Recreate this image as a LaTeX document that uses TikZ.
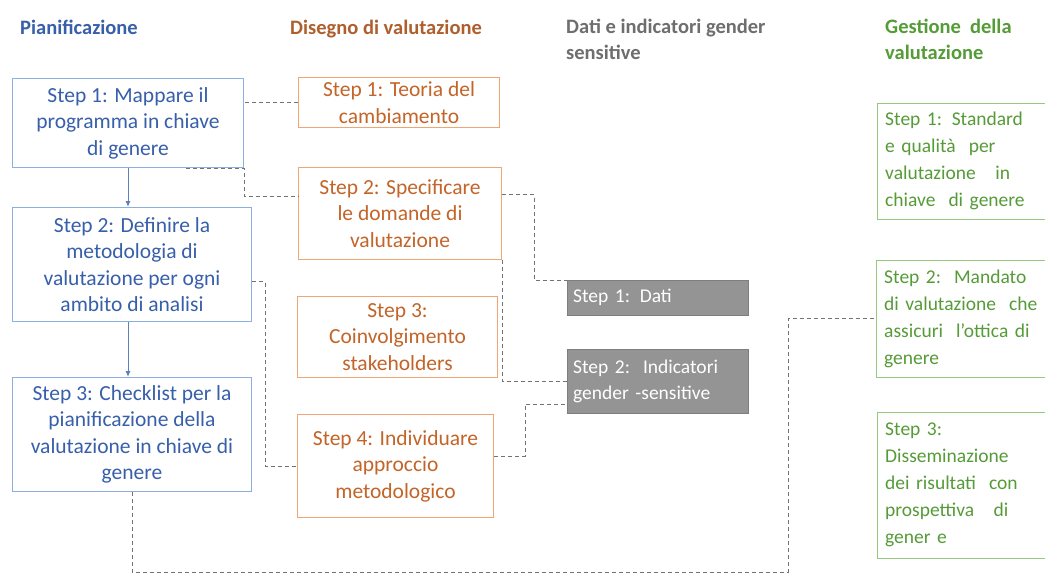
\documentclass[tikz,border=0pt]{standalone}
\usepackage{fontspec}
\setmainfont{Carlito}
\usetikzlibrary{arrows.meta}
\definecolor{planblue}{RGB}{55,95,170}
\definecolor{planline}{RGB}{140,175,225}
\definecolor{designtext}{RGB}{195,100,40}
\definecolor{designline}{RGB}{240,165,115}
\definecolor{designhead}{RGB}{175,95,45}
\definecolor{datahead}{RGB}{110,110,110}
\definecolor{datafill}{RGB}{148,148,148}
\definecolor{mgmtgreen}{RGB}{85,155,55}
\definecolor{mgmtline}{RGB}{150,200,125}
\definecolor{linkgray}{RGB}{115,115,115}
\newcommand{\boxfont}{\fontsize{21.5}{26.5}\selectfont}
\newcommand{\headfont}{\fontsize{20.5}{26}\selectfont\bfseries}

\begin{document}
\begin{tikzpicture}[x=1pt,y=-1pt,
    head/.style={inner sep=0pt,font=\headfont,align=left},
    planbox/.style={draw=planline,line width=1pt,text=planblue,align=center,font=\boxfont,anchor=north west},
    designbox/.style={draw=designline,line width=1pt,text=designtext,align=center,font=\boxfont,anchor=north west},
    databox/.style={draw=datafill!85!black,fill=datafill,text=white,align=left,font=\fontsize{19.5}{26.5}\selectfont,anchor=north west,inner xsep=6pt,text width=169pt},
    mgmtbox/.style={text=mgmtgreen,align=left,font=\fontsize{19.5}{27}\selectfont,anchor=north west,inner xsep=8pt,text width=200pt},
    link/.style={draw=linkgray,line width=0.9pt,dash pattern=on 4pt off 3pt},
    flow/.style={draw=planblue!80,line width=1pt,-{Latex[length=6pt,width=5pt]}}]
  \useasboundingbox (0,0) rectangle (1048,576);
  \fill[white] (0,0) rectangle (1048,576);

  % column titles
  \node[head,anchor=base west,text=planblue] (hplan) at (20,34) {Pianificazione};
  \node[head,anchor=base west,text=designhead] (hdesign) at (290,34) {Disegno\ di valutazione};
  \node[head,anchor=north west,text=datahead] (hdata) at (566,19) {Dati e\ indicatori\ gender\\sensitive};
  \node[head,anchor=north west,text=mgmtgreen] (hmgmt) at (885,19) {Gestione\ \ della\\valutazione};

  % Pianificazione
  \node[planbox,minimum width=231pt,minimum height=89pt] (B1) at (12,78) {Step 1: Mappare il\\programma in chiave\\di genere};
  \node[planbox,minimum width=239pt,minimum height=114pt] (B2) at (12,207) {Step 2: Definire la\\metodologia di\\valutazione per ogni\\ambito di analisi};
  \node[planbox,minimum width=239pt,minimum height=114pt] (B3) at (12,377) {Step 3: Checklist per la\\pianificazione della\\valutazione in chiave di\\genere};
  \draw[flow] (B1.south) -- (B1.south |- B2.north);
  \draw[flow] (B2.south -| B1.south) -- (B1.south |- B3.north);

  % Disegno di valutazione
  \node[designbox,minimum width=201pt,minimum height=50pt] (O1) at (298,77) {Step 1: Teoria del\\cambiamento};
  \node[designbox,minimum width=203pt,minimum height=92pt] (O2) at (298,167) {Step 2: Specificare\\le domande di\\valutazione};
  \node[designbox,minimum width=200pt,minimum height=81pt] (O3) at (297,296) {Step 3:\\Coinvolgimento\\stakeholders};
  \node[designbox,minimum width=196pt,minimum height=103pt] (O4) at (297,414) {Step 4: Individuare\\approccio\\metodologico};

  % Dati e indicatori
  \node[databox,minimum height=35pt] (G1) at (567,280) {Step 1: Dati};
  \node[databox,minimum height=64pt] (G2) at (567,349) {Step 2:\ \ Indicatori\\gender -sensitive};

  % Gestione della valutazione (boxes open past the right edge)
  \node[mgmtbox,minimum height=116pt] (M1) at (877,103) {Step 1: Standard\\e qualità\ \ per\\valutazione\ \ \ in\\chiave\ \ di genere};
  \node[mgmtbox,minimum height=117pt] (M2) at (876,260) {Step 2:\ \ Mandato\\di valutazione\ \ che\\assicuri\ \ l’ottica di\\genere};
  \node[mgmtbox,minimum height=146pt] (M3) at (877,412) {Step 3:\\Disseminazione\\dei\ risultati\ \ con\\prospettiva\ \ \ di\\gener e};
  \foreach \m in {M1,M2,M3}
    \draw[mgmtline,line width=1pt] (\m.north west -| 1045,0) -- (\m.north west) -- (\m.south west) -- (\m.south west -| 1045,0);

  % dashed links
  \coordinate (low) at (788,572);
  \draw[link] (O1.west) -- (O1.west -| B1.east);
  \draw[link] ([xshift=-58pt]B1.south east) -- (B1.south east) |- ([yshift=17pt]O2.west);
  \draw[link] ([yshift=19pt]O2.east) -| ([xshift=-33pt]G1.north west) -- (G1.north west);
  \draw[link] (O2.south east) |- (G2.west);
  \draw[link] ([yshift=-17pt]B2.east) -| ([xshift=-32pt]O4.west) -- (O4.west);
  \draw[link] ([yshift=10pt]O4.east) -| ([xshift=-42pt,yshift=-23pt]G2.west) -- ([yshift=-23pt]G2.west);
  \draw[link] (B3.south) |- (low) |- (M2.west);
\end{tikzpicture}
\end{document}
